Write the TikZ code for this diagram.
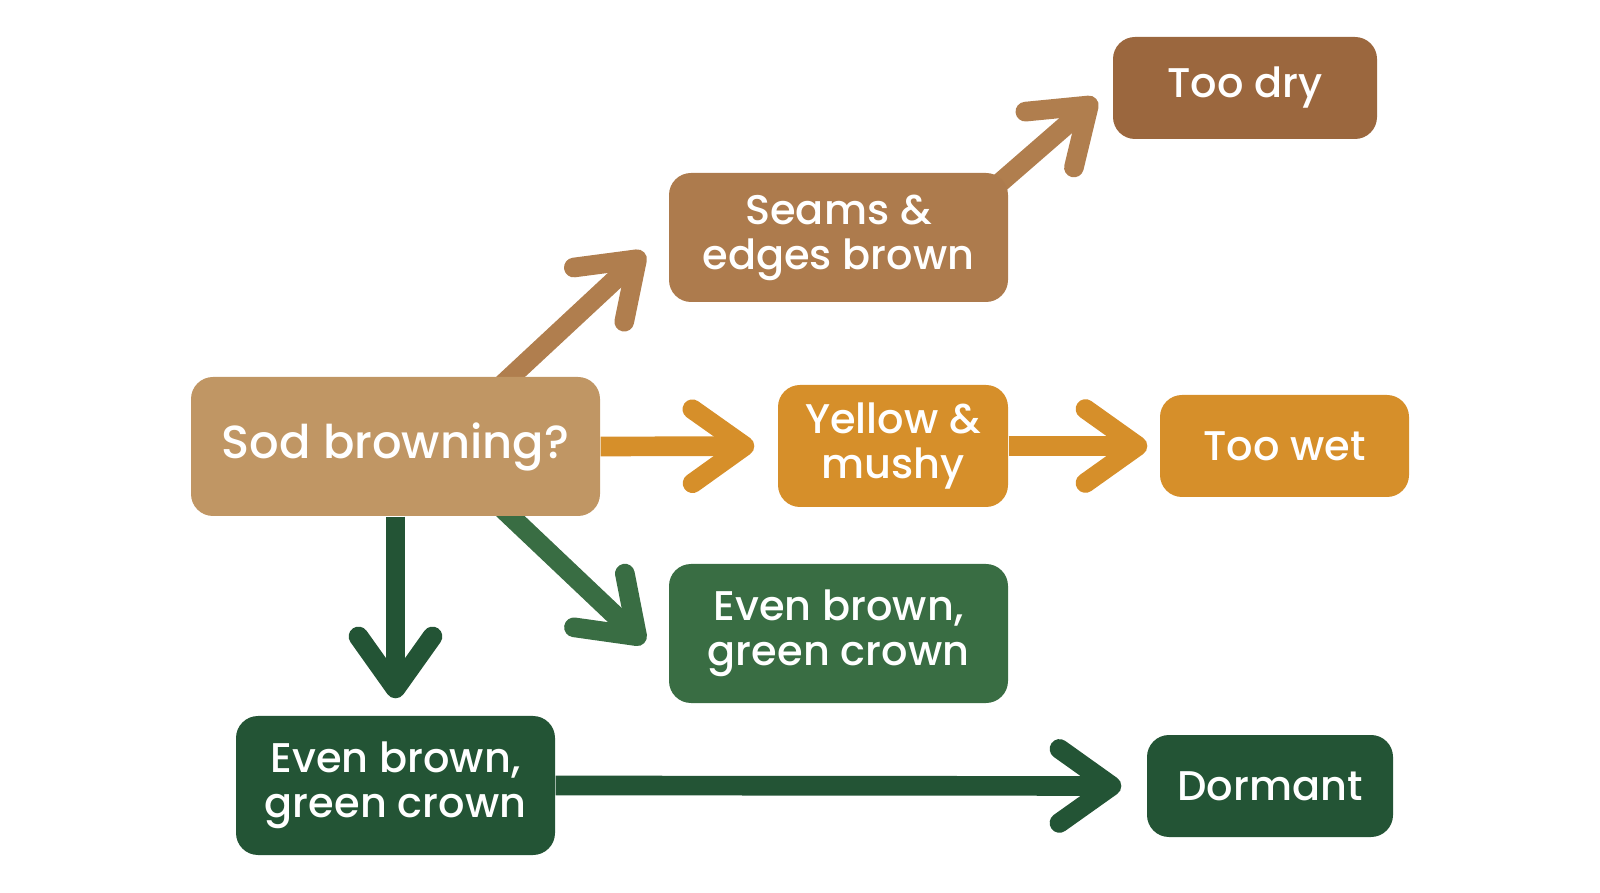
\documentclass[tikz,border=0pt]{standalone}
\usepackage{fontspec}
\setmainfont{Poppins}[UprightFont=* Medium]
\usetikzlibrary{arrows.meta,backgrounds}

\definecolor{sodtan}{RGB}{192,150,100}
\definecolor{seambrown}{RGB}{173,123,77}
\definecolor{drybrown}{RGB}{155,103,62}
\definecolor{arrbrown}{RGB}{176,126,78}
\definecolor{wetorange}{RGB}{214,143,42}
\definecolor{midgreen}{RGB}{57,109,67}
\definecolor{darkgreen}{RGB}{35,84,53}

\begin{document}
\begin{tikzpicture}[
    line join=round,
    every node/.style={font=\fontsize{11.8}{12.8}\selectfont},
    box/.style={rounded corners=2.2mm,inner sep=0pt,align=center,
        text=white},
    arr/.style={line width=5.6pt,
        -{Straight Barb[length=5.2mm,width=7.4mm,round]}}
]
    % Page frame keeps the reference margins.
    \useasboundingbox (0,0) rectangle (16,-8.93);

    % Decision boxes, centred where the reference puts them.
    \node[box,fill=sodtan,minimum width=4.09cm,minimum height=1.39cm,
        font=\fontsize{13.2}{14}\selectfont] (sod) at (3.955,-4.465)
        {Sod browning?};
    \node[box,fill=seambrown,minimum width=3.39cm,minimum height=1.29cm]
        (seams) at (8.385,-2.375) {Seams \&\\edges brown};
    \node[box,fill=drybrown,minimum width=2.64cm,minimum height=1.02cm]
        (dry) at (12.45,-0.88) {Too dry};
    \node[box,fill=wetorange,minimum width=2.30cm,minimum height=1.22cm]
        (yellow) at (8.93,-4.46) {Yellow \&\\mushy};
    \node[box,fill=wetorange,minimum width=2.49cm,minimum height=1.02cm]
        (wet) at (12.845,-4.46) {Too wet};
    \node[box,fill=midgreen,minimum width=3.39cm,minimum height=1.39cm]
        (evenmid) at (8.385,-6.335) {Even brown,\\green crown};
    \node[box,fill=darkgreen,minimum width=3.19cm,minimum height=1.39cm]
        (evenlow) at (3.955,-7.855) {Even brown,\\green crown};
    \node[box,fill=darkgreen,minimum width=2.46cm,minimum height=1.02cm]
        (dormant) at (12.70,-7.86) {Dormant};

    % Connectors run behind the boxes.
    \begin{pgfonlayer}{background}
    \draw[arr,arrbrown] ([xshift=10.5mm,yshift=-1mm]sod.north)
        -- ([xshift=-2.4mm,yshift=-1.5mm]seams.west);
    \draw[arr,arrbrown] ([xshift=-2.2mm,yshift=-2.2mm]seams.north east)
        -- ([xshift=-1.6mm,yshift=-1.1mm]dry.west);
    \draw[arr,wetorange,shorten >=2.3mm] (sod.east) -- (yellow.west);
    \draw[arr,wetorange,shorten >=1.2mm] (yellow.east) -- (wet.west);
    \draw[arr,midgreen] ([xshift=10.5mm,yshift=1mm]sod.south)
        -- ([xshift=-2.4mm,yshift=-0.95mm]evenmid.west);
    \draw[arr,darkgreen,shorten >=1.7mm] (sod.south) -- (evenlow.north);
    \draw[arr,darkgreen,shorten >=2.5mm] (evenlow.east) -- (dormant.west);
    \end{pgfonlayer}
\end{tikzpicture}
\end{document}
